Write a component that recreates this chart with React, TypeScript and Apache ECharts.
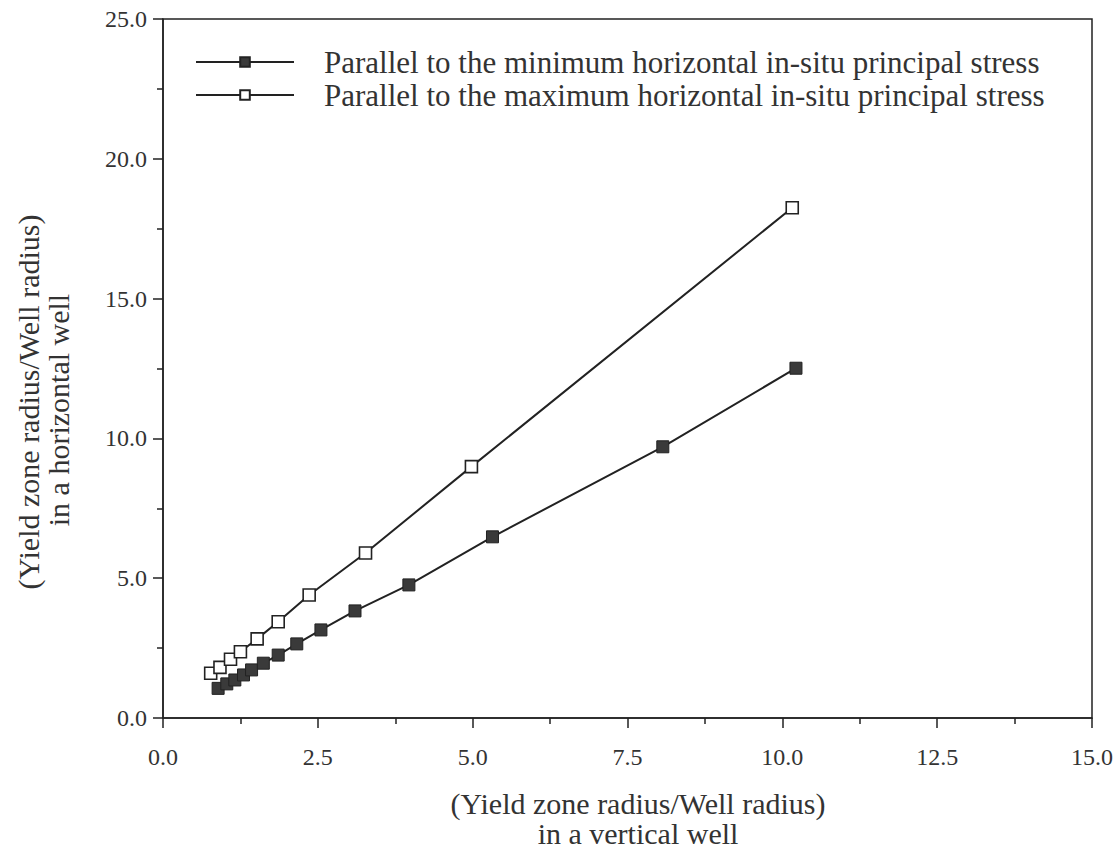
import React, { useEffect, useRef } from "react";
import * as echarts from "echarts";

const seriesNames = [
  "Parallel to the minimum horizontal in-situ principal stress",
  "Parallel to the maximum horizontal in-situ principal stress",
];

const minX = [0.89, 1.03, 1.16, 1.3, 1.43, 1.62, 1.86, 2.16, 2.55, 3.1, 3.97, 5.32, 8.07, 10.22];
const minY = [1.06, 1.22, 1.36, 1.54, 1.72, 1.96, 2.25, 2.65, 3.15, 3.83, 4.76, 6.48, 9.7, 12.51];

const maxX = [0.77, 0.92, 1.09, 1.25, 1.52, 1.86, 2.36, 3.27, 4.98, 10.16];
const maxY = [1.6, 1.81, 2.1, 2.37, 2.83, 3.44, 4.4, 5.9, 8.99, 18.25];

const xTitleLines = ["(Yield zone radius/Well radius)", "in a vertical well"];
const yTitleLines = ["(Yield zone radius/Well radius)", "in a horizontal well"];

const FONT = "Liberation Serif";
const INK = "#222";
const TEXT = "#333";

export default function App() {
  const ref = useRef<HTMLDivElement>(null);
  useEffect(() => {
    document.body.style.margin = "0";
    document.body.style.overflow = "hidden";
    if (!ref.current) return;
    const chart = echarts.init(ref.current, null, { renderer: "svg" });
    const pair = (xs: number[], ys: number[]) => xs.map((x, i) => [x, ys[i]]);
    const titleStyle = (text: string) => ({
      text,
      fontFamily: FONT,
      fontSize: 30,
      fill: TEXT,
      textAlign: "center",
      textVerticalAlign: "middle",
    });
    chart.setOption({
      animation: false,
      backgroundColor: "#fff",
      grid: {
        left: 163,
        right: 26,
        top: 19,
        bottom: 131,
        show: true,
        borderColor: INK,
        borderWidth: 1.5,
      },
      legend: {
        left: 190,
        top: 41,
        orient: "vertical",
        itemWidth: 98,
        itemHeight: 12,
        itemGap: 1,
        textStyle: {
          fontFamily: FONT,
          fontSize: 31,
          lineHeight: 32,
          color: TEXT,
          padding: [0, 0, 0, 25],
        },
        data: seriesNames,
      },
      xAxis: {
        type: "value",
        min: 0,
        max: 15,
        interval: 2.5,
        axisLine: { lineStyle: { color: INK, width: 1.5 } },
        axisTick: { length: 10, lineStyle: { color: INK, width: 1.5 } },
        minorTick: { show: true, splitNumber: 2, length: 6, lineStyle: { color: INK, width: 1.5 } },
        splitLine: { show: false },
        axisLabel: {
          margin: 27,
          fontFamily: FONT,
          fontSize: 24,
          color: TEXT,
          formatter: (v: number) => v.toFixed(1),
        },
      },
      yAxis: {
        type: "value",
        min: 0,
        max: 25,
        interval: 5,
        axisLine: { lineStyle: { color: INK, width: 1.5 } },
        axisTick: { length: 10, lineStyle: { color: INK, width: 1.5 } },
        minorTick: { show: true, splitNumber: 2, length: 6, lineStyle: { color: INK, width: 1.5 } },
        splitLine: { show: false },
        axisLabel: {
          margin: 16,
          fontFamily: FONT,
          fontSize: 24,
          color: TEXT,
          formatter: (v: number) => v.toFixed(1),
        },
      },
      graphic: [
        { type: "text", x: 638, y: 803, style: titleStyle(xTitleLines[0]) },
        { type: "text", x: 638, y: 833, style: titleStyle(xTitleLines[1]) },
        { type: "text", x: 28, y: 402, rotation: Math.PI / 2, style: titleStyle(yTitleLines[0]) },
        { type: "text", x: 58, y: 410, rotation: Math.PI / 2, style: titleStyle(yTitleLines[1]) },
      ],
      series: [
        {
          name: seriesNames[0],
          type: "line",
          data: pair(minX, minY),
          symbol: "rect",
          symbolSize: 12,
          lineStyle: { color: INK, width: 2 },
          itemStyle: { color: "#3a3a3a", borderColor: INK, borderWidth: 1 },
        },
        {
          name: seriesNames[1],
          type: "line",
          data: pair(maxX, maxY),
          symbol: "rect",
          symbolSize: 12,
          lineStyle: { color: INK, width: 2 },
          itemStyle: { color: "#fff", borderColor: INK, borderWidth: 1.6 },
        },
      ],
    });
    return () => chart.dispose();
  }, []);
  return <div ref={ref} style={{ width: 1118, height: 849 }} />;
}
